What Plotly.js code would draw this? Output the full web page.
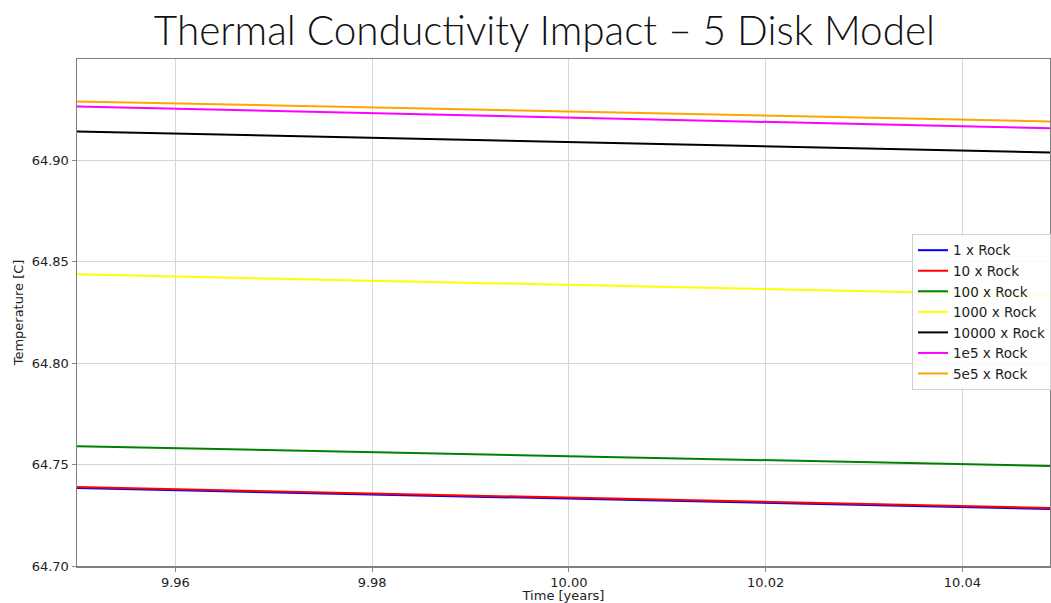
<!DOCTYPE html>
<html>
<head>
<meta charset="utf-8">
<script src="https://cdn.plot.ly/plotly-3.0.1.min.js"></script>
<style>
  html, body { margin: 0; padding: 0; background: #fff; overflow: hidden; }
  #chart { width: 1051px; height: 603px; }
</style>
</head>
<body>
<div id="chart"></div>
<script>
// Simulation time (years)
const timeYears = [9.95, 10.00, 10.05];

// Temperature [C] per thermal-conductivity multiplier
const rock1    = [64.7384, 64.7332, 64.7280];
const rock10   = [64.7389, 64.7337, 64.7285];
const rock100  = [64.7591, 64.7542, 64.7492];
const rock1000 = [64.8438, 64.8386, 64.8334];
const rock1e4  = [64.9143, 64.9091, 64.9038];
const rock1e5  = [64.9266, 64.9212, 64.9157];
const rock5e5  = [64.9291, 64.9242, 64.9191];

const seriesNames = ["1 x Rock", "10 x Rock", "100 x Rock", "1000 x Rock",
                     "10000 x Rock", "1e5 x Rock", "5e5 x Rock"];
const seriesValues = [rock1, rock10, rock100, rock1000, rock1e4, rock1e5, rock5e5];
const seriesColors = ["#0000ff", "#ff0000", "#008000", "#ffff00",
                      "#000000", "#ff00ff", "#ffa500"];

const xTicks = [9.96, 9.98, 10.00, 10.02, 10.04];
const yTicks = [64.70, 64.75, 64.80, 64.85, 64.90];

const traces = seriesNames.map((name, i) => ({
  type: "scatter",
  mode: "lines",
  name: name,
  x: timeYears,
  y: seriesValues[i],
  line: { color: seriesColors[i], width: 2 }
}));

const tickFont = { family: "DejaVu Sans, sans-serif", size: 13, color: "#222" };

const layout = {
  width: 1051,
  height: 603,
  margin: { l: 77, r: 0, t: 59, b: 37 },
  paper_bgcolor: "#fff",
  plot_bgcolor: "#fff",
  showlegend: true,
  title: {
    text: "Thermal Conductivity Impact – 5 Disk Model",
    font: { family: "Lato, 'Open Sans', sans-serif", size: 40.5, color: "#111", weight: 300 },
    x: 0.518, xanchor: "center",
    y: 0.949, yanchor: "middle"
  },
  xaxis: {
    range: [9.95, 10.0489],
    tickvals: xTicks,
    ticktext: xTicks.map(v => v.toFixed(2)),
    ticks: "outside", ticklen: 4, tickcolor: "#888",
    showgrid: true, gridcolor: "#d6d6d6", gridwidth: 1,
    showline: true, linecolor: "#808080", linewidth: 1.5, mirror: true,
    zeroline: false,
    tickfont: tickFont,
    title: { text: "Time [years]", font: { family: "DejaVu Sans, sans-serif", size: 13, color: "#222" }, standoff: 6 }
  },
  yaxis: {
    range: [64.70, 64.95],
    tickvals: yTicks,
    ticktext: yTicks.map(v => v.toFixed(2)),
    ticks: "outside", ticklen: 4, tickcolor: "#888",
    showgrid: true, gridcolor: "#d6d6d6", gridwidth: 1,
    showline: true, linecolor: "#808080", linewidth: 1.5, mirror: true,
    zeroline: false,
    tickfont: tickFont,
    title: { text: "Temperature [C]", font: { family: "DejaVu Sans, sans-serif", size: 13, color: "#222" }, standoff: 5 }
  },
  legend: {
    x: 0.858, xanchor: "left",
    y: 0.655, yanchor: "top",
    bgcolor: "rgba(255,255,255,0.85)",
    bordercolor: "#d0d0d0", borderwidth: 1,
    font: { family: "DejaVu Sans, sans-serif", size: 13.5, color: "#222" },
    itemwidth: 30,
    tracegroupgap: 0
  }
};

Plotly.newPlot("chart", traces, layout, { displayModeBar: false, staticPlot: true });
</script>
</body>
</html>
